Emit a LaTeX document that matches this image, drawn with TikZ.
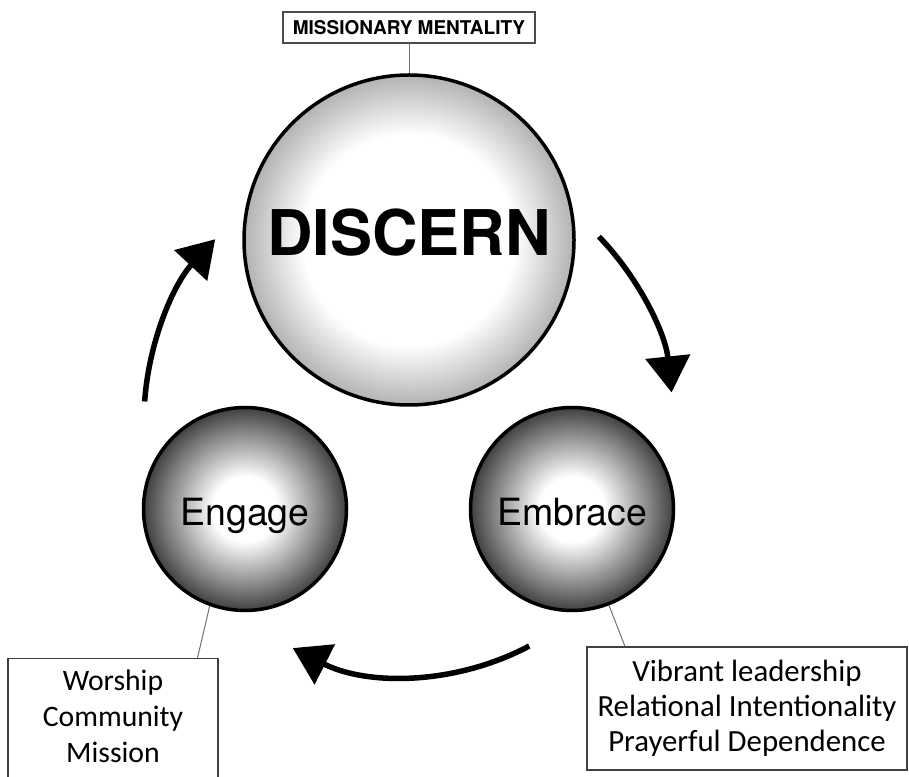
\documentclass[tikz,border=0pt]{standalone}
\usepackage{fontspec}
\usetikzlibrary{arrows.meta,calc}
\newfontfamily\helv{TeX Gyre Heros}
\newfontfamily\calib{Carlito}
\pgfdeclareradialshading{lightball}{\pgfpointorigin}{color(0bp)=(white); color(16bp)=(white); color(25bp)=(black!30); color(50bp)=(black!30)}
\pgfdeclareradialshading{darkball}{\pgfpointorigin}{color(0bp)=(white); color(8bp)=(white); color(20bp)=(black!52); color(25bp)=(black!75); color(50bp)=(black!75)}

\begin{document}
\begin{tikzpicture}[x=1pt,y=1pt,
    bignode/.style={circle, draw, line width=3.5pt, minimum size=330pt, inner sep=0pt, shade, shading=lightball, font=\helv\bfseries\fontsize{63}{66}\selectfont, text depth=16pt},
    smallnode/.style={circle, draw, line width=3.5pt, minimum size=203pt, inner sep=0pt, shade, shading=darkball, font=\helv\fontsize{37.5}{40}\selectfont, text height=33pt, text depth=0pt},
    listbox/.style={draw=black!75, line width=1.2pt, align=center, font=\calib\fontsize{29.7}{36}\selectfont},
    link/.style={draw=black!55, line width=1pt},
    cycle/.style={line width=5.5pt, -{Triangle[length=36pt,width=44pt]}}]
    \useasboundingbox (0,0) rectangle (909,776);

    \node[draw=black!70, line width=1.2pt, minimum width=252pt, minimum height=31pt, inner sep=0pt, font=\helv\bfseries\fontsize{19}{22}\selectfont] (mental) at (409,748.5) {MISSIONARY MENTALITY};
    \node[bignode] (discern) at (409,536) {DISCERN};
    \node[smallnode] (engage) at (245,267) {Engage};
    \node[smallnode] (embrace) at (572,267) {Embrace};
    \node[listbox, anchor=north, minimum width=210pt, inner ysep=11pt, text depth=90pt] (worship) at (113,118) {Worship\\Community\\Mission};
    \node[listbox, minimum width=320pt, minimum height=123pt, inner sep=0pt, font=\calib\fontsize{30.8}{35}\selectfont] (values) at (747,67.5) {Vibrant leadership\\Relational Intentionality\\Prayerful Dependence};
    \coordinate (hub) at (409,356);

    \draw[link] (mental) -- (discern);
    \draw[link] (engage.250) -- ($(worship.north west)!0.9!(worship.north east)$);
    \draw[link] (embrace.291) -- ($(values.north west)!0.12!(values.north east)$);

    \draw[cycle] ([shift={(44:264)}]hub) arc[start angle=44, end angle=6, radius=264];
    \draw[cycle] ([shift={(-62:256)}]hub) arc[start angle=-62, end angle=-117, radius=256];
    \draw[cycle] ([shift={(176:265)}]hub) arc[start angle=176, end angle=137, radius=265];
\end{tikzpicture}
\end{document}
